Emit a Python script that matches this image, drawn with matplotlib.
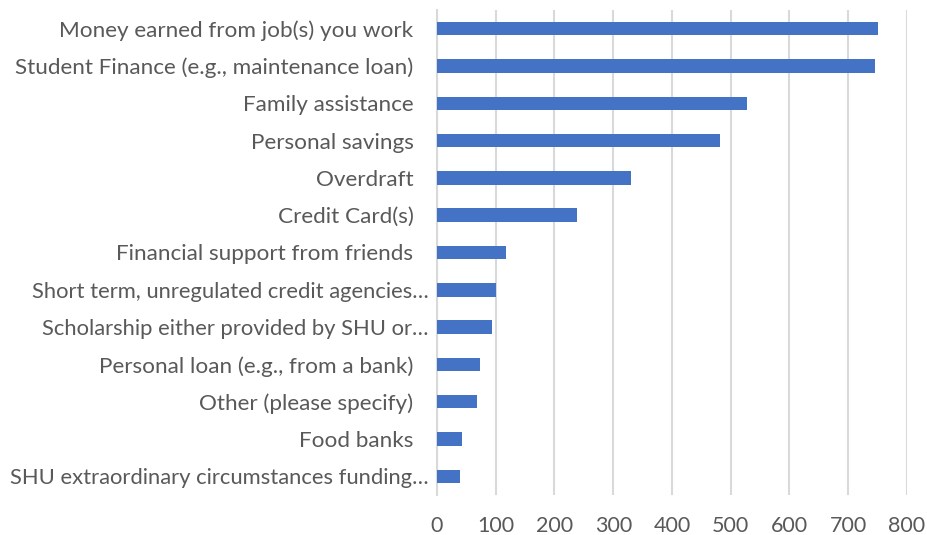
import matplotlib
matplotlib.use("Agg")
import matplotlib.pyplot as plt
import matplotlib.transforms as mtransforms

categories = [
    "Money earned from job(s) you work",
    "Student Finance (e.g., maintenance loan)",
    "Family assistance",
    "Personal savings",
    "Overdraft",
    "Credit Card(s)",
    "Financial support from friends",
    "Short term, unregulated credit agencies\u2026",
    "Scholarship either provided by SHU or\u2026",
    "Personal loan (e.g., from a bank)",
    "Other (please specify)",
    "Food banks",
    "SHU extraordinary circumstances funding\u2026",
]
values = [750, 745, 527, 482, 330, 239, 118, 100, 94, 73, 68, 43, 39]
x_ticks = [0, 100, 200, 300, 400, 500, 600, 700, 800]

plt.rcParams["font.family"] = ["Lato", "DejaVu Sans"]
text_color = "#595959"

fig = plt.figure(figsize=(9.28, 5.35), dpi=100)
ax = fig.add_axes([437 / 928, 1 - 495 / 535, 470 / 928, 485 / 535])

pos = list(range(len(categories)))
ax.barh(pos, values, height=0.36, color="#4472C4", zorder=3)
ax.set_ylim(len(categories) - 0.5, -0.5)
ax.set_xlim(0, 800)
ax.set_xticks(x_ticks)
ax.set_xticklabels([str(t) for t in x_ticks])
ax.set_yticks(pos)
ax.set_yticklabels(categories)

ax.grid(axis="x", color="#d9d9d9", linewidth=1.5, zorder=0)
ax.grid(axis="y", visible=False)
for side in ["top", "right", "bottom"]:
    ax.spines[side].set_visible(False)
ax.spines["left"].set_color("#d9d9d9")
ax.spines["left"].set_linewidth(1.5)

ax.tick_params(axis="y", length=0, pad=17, labelsize=16.2, labelcolor=text_color)
ax.tick_params(axis="x", length=0, pad=15, labelsize=15.5, labelcolor=text_color)

# truncated category names run a little closer to the axis
shift = mtransforms.ScaledTranslation(15 / 100, 0, fig.dpi_scale_trans)
for lbl in ax.get_yticklabels():
    if lbl.get_text().endswith("\u2026"):
        lbl.set_transform(lbl.get_transform() + shift)
        lbl.set_fontsize(15.8)

fig.savefig("out.png", dpi=100)
